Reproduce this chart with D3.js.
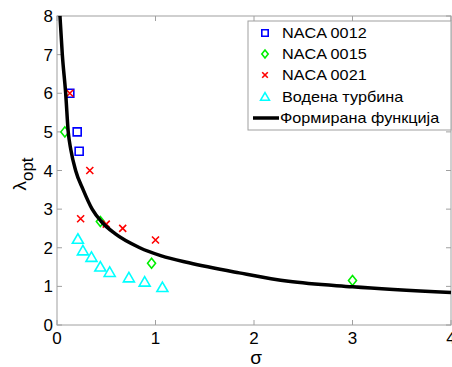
<!DOCTYPE html>
<html>
<head>
<meta charset="utf-8">
<script src="https://cdn.jsdelivr.net/npm/d3@7"></script>
<style>
  body { margin: 0; background: #fff; }
  text { font-family: "Liberation Sans", Arial, sans-serif; }
</style>
</head>
<body>
<div id="chart"></div>
<script>
// values
const naca0012 = [[0.13, 6.0], [0.205, 5.0], [0.225, 4.5]];
const naca0015 = [[0.08, 5.0], [0.44, 2.68], [0.96, 1.6], [3.0, 1.15]];
const naca0021 = [[0.13, 6.0], [0.333, 4.0], [0.24, 2.75], [0.5, 2.61], [0.667, 2.5], [1.0, 2.2]];
const turbine = [[0.212, 2.22], [0.263, 1.92], [0.35, 1.75], [0.44, 1.5], [0.535, 1.36],
                 [0.73, 1.22], [0.89, 1.11], [1.07, 0.97]];
// formed function, sampled along the drawn curve
const fitCurve = [[0.03, 8.0], [0.054, 7.0], [0.088, 6.0], [0.114, 5.0], [0.141, 4.53],
                  [0.189, 4.0], [0.266, 3.5], [0.357, 3.0], [0.45, 2.68], [0.586, 2.37],
                  [0.84, 2.0], [1.06, 1.79], [1.34, 1.61], [1.85, 1.35], [2.35, 1.13],
                  [3.0, 0.99], [4.0, 0.84]];
const xTicks = [0, 1, 2, 3, 4];
const yTicks = [0, 1, 2, 3, 4, 5, 6, 7, 8];
const legendLabels = ["NACA 0012", "NACA 0015", "NACA 0021", "Водена турбина", "Формирана функција"];

const width = 452, height = 367;
const box = { left: 57, right: 451, top: 16, bottom: 325 };

const svg = d3.select("#chart").append("svg")
  .attr("width", width)
  .attr("height", height);

const x = d3.scaleLinear().domain([0, 4]).range([box.left, box.right]);
const y = d3.scaleLinear().domain([0, 8]).range([box.bottom, box.top]);

// axes box
const axisColor = "#a0a0a0";
svg.append("rect")
  .attr("x", box.left).attr("y", box.top)
  .attr("width", box.right - box.left).attr("height", box.bottom - box.top)
  .attr("fill", "none").attr("stroke", axisColor).attr("stroke-width", 1);

// inward ticks on all four sides
const tickLen = 5;
const g = svg.append("g").attr("stroke", axisColor);
xTicks.forEach(t => {
  g.append("line").attr("x1", x(t)).attr("x2", x(t)).attr("y1", box.bottom).attr("y2", box.bottom - tickLen);
  g.append("line").attr("x1", x(t)).attr("x2", x(t)).attr("y1", box.top).attr("y2", box.top + tickLen);
});
yTicks.forEach(t => {
  g.append("line").attr("x1", box.left).attr("x2", box.left + tickLen).attr("y1", y(t)).attr("y2", y(t));
  g.append("line").attr("x1", box.right).attr("x2", box.right - tickLen).attr("y1", y(t)).attr("y2", y(t));
});

svg.append("g").selectAll("text")
  .data(xTicks)
  .enter().append("text")
  .attr("x", d => x(d))
  .attr("y", 344)
  .attr("text-anchor", "middle")
  .attr("font-size", "17px")
  .text(d => d);

svg.append("g").selectAll("text")
  .data(yTicks)
  .enter().append("text")
  .attr("x", 53)
  .attr("y", d => y(d) + 6)
  .attr("text-anchor", "end")
  .attr("font-size", "17px")
  .text(d => d);

// axis titles
svg.append("text")
  .attr("x", 256).attr("y", 364)
  .attr("text-anchor", "middle")
  .attr("font-size", "19px")
  .text("σ");

const yTitle = svg.append("text")
  .attr("transform", "translate(26,174) rotate(-90)")
  .attr("text-anchor", "middle")
  .attr("font-size", "19px");
yTitle.append("tspan").text("λ");
yTitle.append("tspan").attr("dy", 7).attr("font-size", "17px").text("opt");

// marker shapes
function shapePath(kind) {
  if (kind === "square") return "M-4,-4H4V4H-4Z";
  if (kind === "diamond") return "M0,-5L4,0L0,5L-4,0Z";
  if (kind === "triangle") return "M0,-5.5L5.5,4L-5.5,4Z";
  return "M-3.5,-3.5L3.5,3.5M-3.5,3.5L3.5,-3.5";
}

const series = [
  { data: naca0012, kind: "square", color: "#0000ff" },
  { data: naca0015, kind: "diamond", color: "#00ee00" },
  { data: naca0021, kind: "x", color: "#ff0000" },
  { data: turbine, kind: "triangle", color: "#00ffff" }
];

const plot = svg.append("g");
series.forEach(s => {
  plot.append("g").selectAll("path")
    .data(s.data)
    .enter().append("path")
    .attr("transform", d => `translate(${x(d[0])},${y(d[1])})`)
    .attr("d", shapePath(s.kind))
    .attr("fill", "none")
    .attr("stroke", s.color)
    .attr("stroke-width", 1.6);
});

// formed function
const line = d3.line()
  .x(d => x(d[0]))
  .y(d => y(d[1]))
  .curve(d3.curveMonotoneX);

plot.append("path")
  .datum(fitCurve)
  .attr("d", line)
  .attr("fill", "none")
  .attr("stroke", "#000")
  .attr("stroke-width", 3.5);

// legend
const legend = svg.append("g");
legend.append("rect")
  .attr("x", 248).attr("y", 21)
  .attr("width", 203).attr("height", 109)
  .attr("fill", "#fff")
  .attr("stroke", axisColor);

const rowY = [33, 54, 75, 97, 118];
legendLabels.forEach((label, i) => {
  if (i < 4) {
    legend.append("path")
      .attr("transform", `translate(265,${rowY[i]}) scale(0.8)`)
      .attr("d", shapePath(series[i].kind))
      .attr("fill", "none")
      .attr("stroke", series[i].color)
      .attr("stroke-width", 2);
  } else {
    legend.append("line")
      .attr("x1", 253).attr("x2", 279)
      .attr("y1", rowY[i]).attr("y2", rowY[i])
      .attr("stroke", "#000").attr("stroke-width", 3.5);
  }
  // the reference glyphs are a bit wider than Liberation Sans
  legend.append("text")
    .attr("transform", `translate(${i < 4 ? 282 : 280},${rowY[i] + 5}) scale(1.08,1)`)
    .attr("font-size", "15px")
    .text(label);
});
</script>
</body>
</html>
